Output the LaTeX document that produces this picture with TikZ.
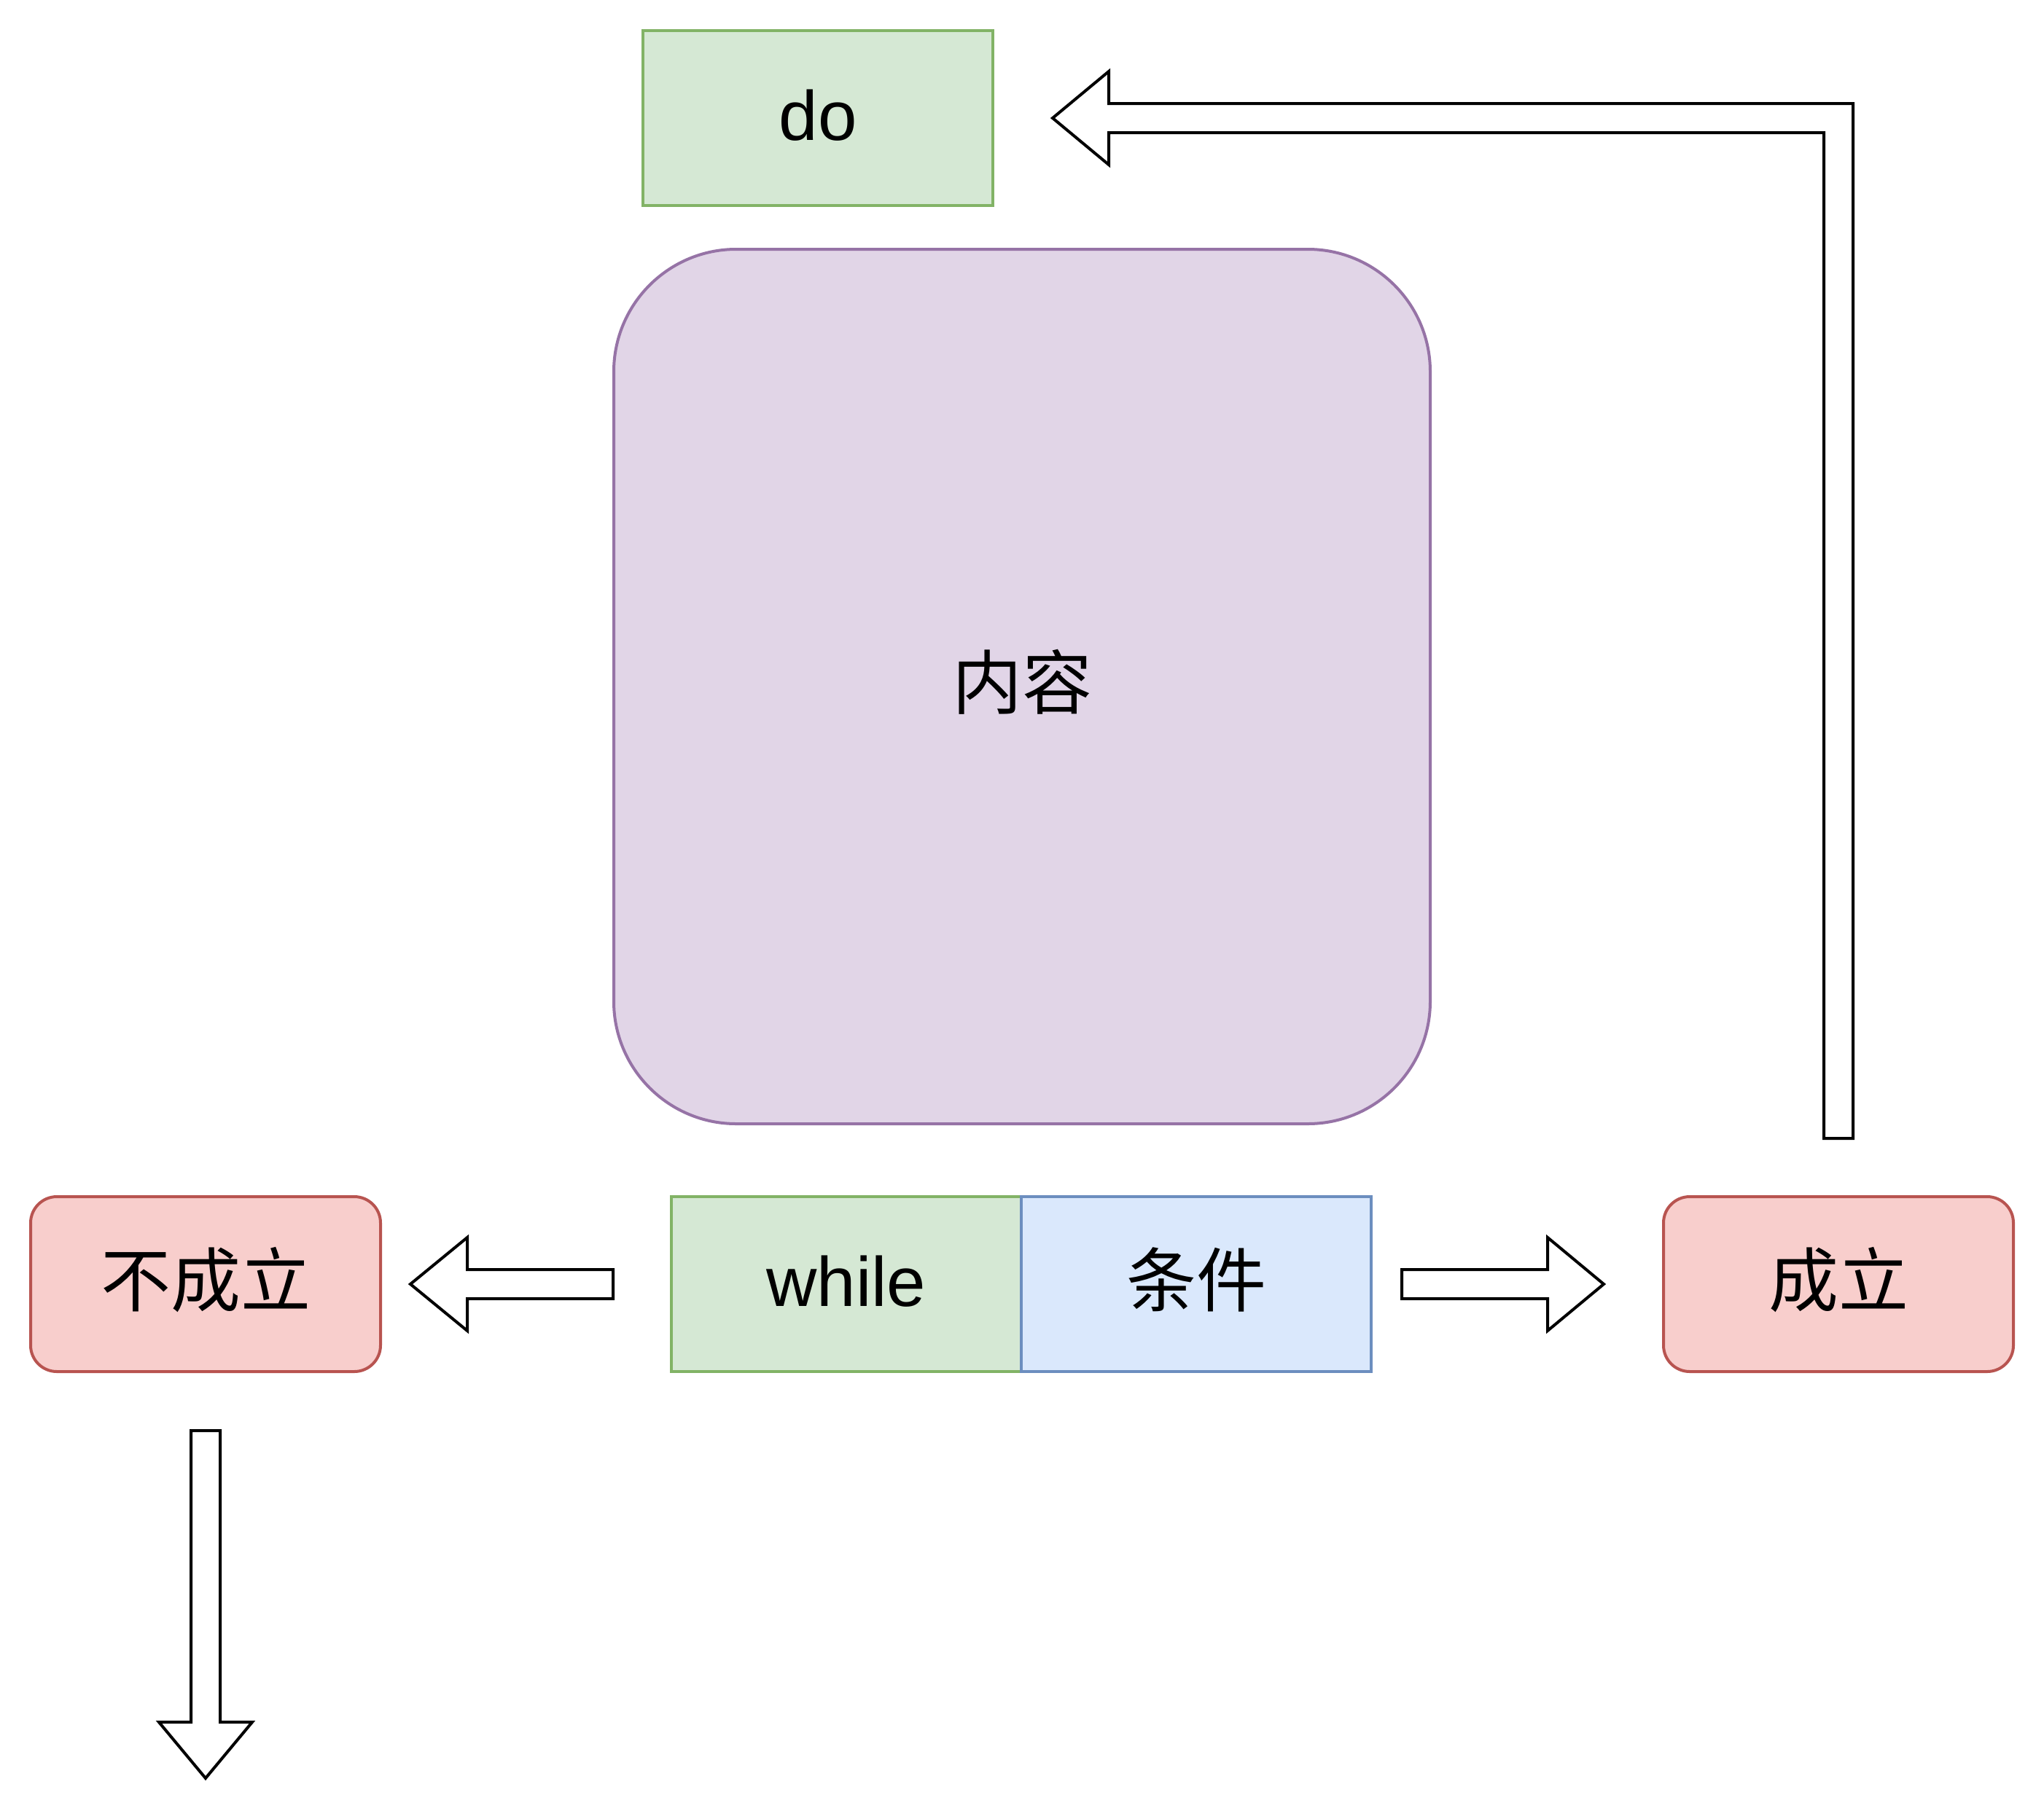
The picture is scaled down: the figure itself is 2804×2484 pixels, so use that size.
\documentclass[tikz,border=0pt]{standalone}
\usepackage{fontspec}
\setmainfont{Liberation Sans}
\newfontfamily\cjk{Noto Sans CJK SC}
\definecolor{greenF}{HTML}{D5E8D4}
\definecolor{greenD}{HTML}{82B366}
\definecolor{purpF}{HTML}{E1D5E7}
\definecolor{purpD}{HTML}{9673A6}
\definecolor{redF}{HTML}{F8CECC}
\definecolor{redD}{HTML}{B85450}
\definecolor{blueF}{HTML}{DAE8FC}
\definecolor{blueD}{HTML}{6C8EBF}
\tikzset{
  base/.style={rectangle, draw, line width=1pt, inner sep=0pt, text height=17.5pt, text depth=2.5pt, font=\fontsize{24}{28}\selectfont},
  greenbox/.style={base, fill=greenF, draw=greenD, minimum width=120pt, minimum height=60pt},
  bluebox/.style={base, fill=blueF, draw=blueD, minimum width=120pt, minimum height=60pt},
  redbox/.style={base, fill=redF, draw=redD, minimum width=120pt, minimum height=60pt, rounded corners=9pt},
  purpbox/.style={base, fill=purpF, draw=purpD, minimum width=280pt, minimum height=300pt, rounded corners=42pt},
  blockarrow/.style={draw=black, fill=white, line width=1pt}
}
\begin{document}
\begin{tikzpicture}[x=0.25pt,y=-0.25pt]
\path[use as bounding box, fill=white] (0,0) rectangle (2804,2484);

\node[greenbox] (do) at (1122,162) {do};
\node[purpbox] (content) at (1402,942) {\cjk 内容};
\node[greenbox] (while) at (1161,1762) {while};
\node[bluebox] (cond) at (1641,1762) {\cjk 条件};
\node[redbox] (no) at (282,1762) {\cjk 不成立};
\node[redbox] (yes) at (2522,1762) {\cjk 成立};

% right arrow (condition -> yes)
\draw[blockarrow] (1923,1742) -- (2123,1742) -- (2123,1698) -- (2200,1762) -- (2123,1826) -- (2123,1782) -- (1923,1782) -- cycle;
% left arrow (condition -> no)
\draw[blockarrow] (841,1742) -- (641,1742) -- (641,1698) -- (563,1762) -- (641,1826) -- (641,1782) -- (841,1782) -- cycle;
% bent arrow (yes -> do)
\draw[blockarrow] (1444,162) -- (1521,98) -- (1521,142) -- (2542,142) -- (2542,1562) -- (2502,1562) -- (2502,182) -- (1521,182) -- (1521,226) -- cycle;
% down arrow (no -> exit)
\draw[blockarrow] (262,1963) -- (302,1963) -- (302,2363) -- (346,2363) -- (282,2440) -- (218,2363) -- (262,2363) -- cycle;
\end{tikzpicture}
\end{document}
